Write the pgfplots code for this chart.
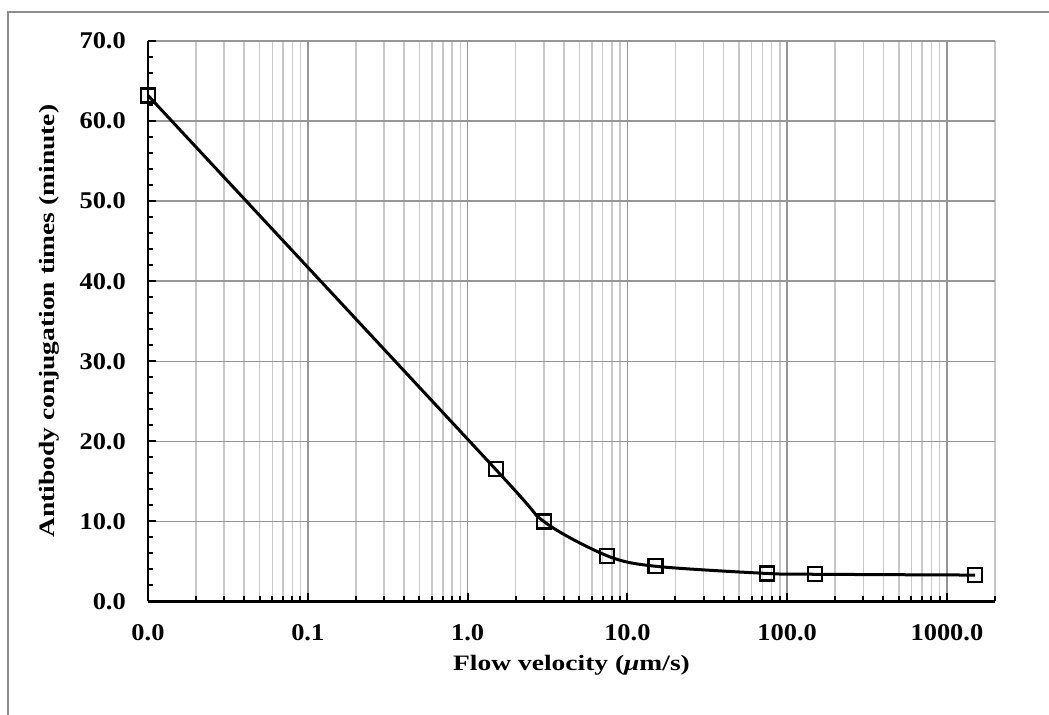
\documentclass[border=0pt]{standalone}
\usepackage{fontspec}
\setmainfont{Liberation Serif}
\newfontfamily\labelfont{Liberation Serif}[FakeStretch=1.25]
\newfontfamily\tickfont{Liberation Serif}[FakeStretch=1.1]
\usepackage{pgfplots}
\pgfplotsset{compat=1.18}
\definecolor{majorgrid}{RGB}{150,150,150}
\definecolor{minorgrid}{RGB}{200,200,200}
\definecolor{framegray}{RGB}{140,140,140}

\begin{document}
\begin{tikzpicture}[x=1bp,y=1bp]
\useasboundingbox (0,0) rectangle (1049,715);
% chart area border
\draw[color=framegray, line width=2bp] (8,-20) -- (8,703) -- (1070,703);
\begin{axis}[
  at={(148bp,113.5bp)}, anchor=south west,
  scale only axis, width=847bp, height=560.5bp,
  xmode=log, xmin=0.01, xmax=2000,
  ymin=0, ymax=70,
  axis x line*=bottom, axis y line*=left,
  axis line style={-, black, line width=2.5bp},
  xtick={0.01,0.1,1,10,100,1000},
  xticklabels={0.0,0.1,1.0,10.0,100.0,1000.0},
  minor xtick={0.02,0.03,0.04,0.05,0.06,0.07,0.08,0.09,
               0.2,0.3,0.4,0.5,0.6,0.7,0.8,0.9,
               2,3,4,5,6,7,8,9,
               20,30,40,50,60,70,80,90,
               200,300,400,500,600,700,800,900,
               2000},
  ytick={0,10,...,70},
  minor y tick num=4,
  yticklabel={\pgfmathprintnumber[fixed,fixed zerofill,precision=1]{\tick}},
  /pgf/number format/assume math mode=true,
  tick label style={font=\tickfont\bfseries\fontsize{24bp}{28bp}\selectfont, inner sep=0pt},
  xticklabel style={anchor=north, yshift=-23bp},
  yticklabel style={anchor=east, xshift=-22bp},
  tick align=inside,
  major tick length=8bp, minor tick length=5bp,
  tick style={black, line width=2bp},
  xmajorgrids, xminorgrids, ymajorgrids,
  major grid style={majorgrid, line width=1.5bp},
  minor grid style={minorgrid, line width=1.5bp},
  xlabel={Flow velocity ({\itshape μ}m/s)},
  ylabel={Antibody conjugation times (minute)},
  every axis x label/.style={at={(axis description cs:0.5,-0.113)}, anchor=center,
    font=\labelfont\bfseries\fontsize{22bp}{26bp}\selectfont},
  every axis y label/.style={at={(axis description cs:-0.116,0.5)}, rotate=90, anchor=center,
    font=\labelfont\bfseries\fontsize{22bp}{26bp}\selectfont},
  clip=false,
]
\addplot[black, line width=3bp, smooth,
  mark=square, mark size=7bp,
  mark options={solid, draw=black, fill=none, line width=2.2bp}]
  coordinates {
  (0.01,63.2) (1.5,16.5) (3,10.0) (7.5,5.7) (15,4.4)
  (75,3.5) (150,3.4) (1500,3.3)
  };
\end{axis}
\end{tikzpicture}
\end{document}
